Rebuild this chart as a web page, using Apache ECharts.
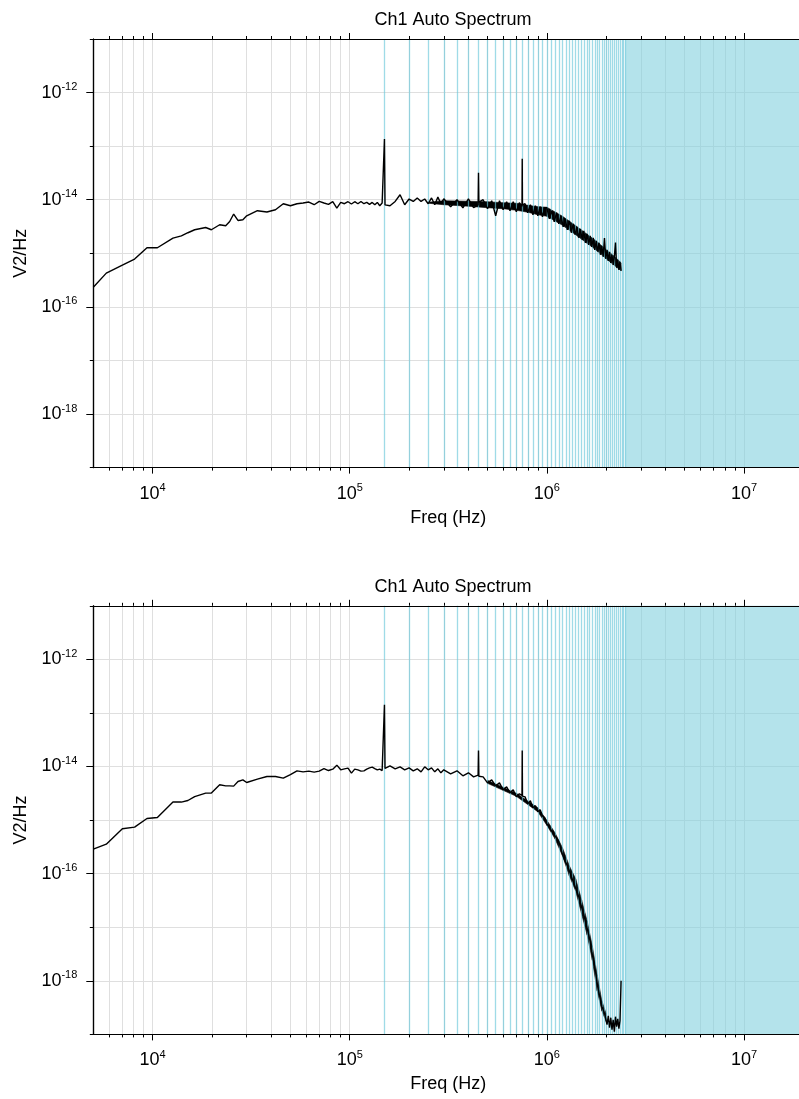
<!DOCTYPE html>
<html><head><meta charset="utf-8">
<script src="https://cdn.jsdelivr.net/npm/echarts@6.0.0/dist/echarts.min.js"></script>
<style>html,body{margin:0;padding:0;background:#fff}#c{width:799px;height:1099px}</style>
</head><body><div id="c"></div>
<script>
const panelTitles = ['Ch1 Auto Spectrum', 'Ch1 Auto Spectrum'];
const xAxisName = 'Freq (Hz)';
const yAxisName = 'V2/Hz';

const freqHz = [
  5000, 5820, 7020, 8100, 9360, 10570, 12680, 13990, 15100, 16340, 18580, 19860, 21880, 23480, 24600, 25770, 27100, 28700,
  30000, 34000, 38000, 42000, 46000, 50000, 54000, 58000, 62000, 66000, 70000, 74000, 78000, 82000, 86000, 90000,
  94000, 98000, 102000, 106000, 110000, 114000, 118000, 122000, 126000, 130000, 134000, 138000, 142000, 146000, 149000,
  150000, 151000, 160000, 170000, 180000, 190000, 200000, 210000, 220000, 230000, 240000, 250000, 260000, 270000, 280000, 290000,
  300000, 325000, 350000, 375000, 400000, 425000, 448000, 450000, 452000, 475000, 500000, 525000, 550000, 575000, 600000,
  625000, 650000, 675000, 700000, 725000, 748000, 750000, 752000, 775000, 800000, 825000, 850000, 875000, 900000, 925000, 950000, 975000,
  1000000, 1030000, 1060000, 1090000, 1120000, 1150000, 1180000, 1210000, 1240000, 1270000, 1300000, 1330000, 1360000, 1390000,
  1420000, 1450000, 1480000, 1510000, 1540000, 1570000, 1600000, 1630000, 1660000, 1690000, 1720000, 1750000, 1780000, 1810000,
  1840000, 1870000, 1900000, 1930000, 1960000, 1990000, 2020000, 2050000, 2080000, 2110000, 2140000, 2170000, 2200000, 2230000,
  2260000, 2290000, 2320000, 2350000, 2380000
];

const psdTop = [
  2.33e-16, 4.27e-16, 6.0e-16, 7.8e-16, 1.27e-15, 1.27e-15, 1.92e-15, 2.12e-15, 2.42e-15, 2.75e-15, 3.03e-15, 2.75e-15, 3.41e-15, 3.27e-15, 3.93e-15, 5.41e-15, 4.1e-15, 4.23e-15,
  5.02e-15, 6.23e-15, 5.89e-15, 6.5e-15, 8.42e-15, 7.72e-15, 8.42e-15, 8.68e-15, 9.06e-15, 8.07e-15, 9.29e-15, 8.68e-15, 8.17e-15, 9.18e-15, 7.0e-15, 8.91e-15,
  8.42e-15, 9.18e-15, 8.31e-15, 9.18e-15, 8.42e-15, 9.29e-15, 8.42e-15, 8.91e-15, 8.17e-15, 8.91e-15, 8.07e-15, 8.91e-15, 7.72e-15, 8.68e-15, 8.4e-15,
  1.36e-13, 8.0e-15, 7.72e-15, 9.29e-15, 1.24e-14, 8.07e-15, 1.03e-14, 9.29e-15, 1.08e-14, 9.29e-15, 1.03e-14, 8.42e-15, 1.08e-14, 8.07e-15, 1.12e-14, 8.42e-15,
  1.04e-14, 7.4e-15, 1.0e-14, 7.08e-15, 1.04e-14, 7.08e-15, 8.0e-15, 3.2e-14, 9.0e-15, 1.0e-14, 6.79e-15, 9.58e-15, 5.02e-15, 9.58e-15, 6.5e-15,
  9.18e-15, 6.23e-15, 9.18e-15, 5.97e-15, 8.79e-15, 7.5e-15, 5.8e-14, 8.0e-15, 8.42e-15, 5.71e-15, 8.07e-15, 5.24e-15, 7.72e-15, 5.02e-15, 7.4e-15, 4.81e-15, 7.08e-15,
  7.09e-15, 4.41e-15, 6.23e-15, 3.88e-15, 5.71e-15, 3.56e-15, 5.02e-15, 3.13e-15, 4.41e-15, 2.75e-15, 4.05e-15, 2.42e-15, 3.56e-15, 2.22e-15,
  3.13e-15, 1.95e-15, 2.87e-15, 1.79e-15, 2.63e-15, 1.57e-15, 2.31e-15, 1.44e-15, 2.12e-15, 1.32e-15, 1.95e-15, 1.16e-15, 1.71e-15, 1.07e-15,
  1.57e-15, 9.38e-16, 1.38e-15, 8.61e-16, 1.92e-15, 7.89e-16, 1.16e-15, 7.24e-16, 1.07e-15, 6.64e-16, 9.38e-16, 6.1e-16, 8.61e-16, 1.59e-15,
  5.36e-16, 7.56e-16, 4.92e-16, 6.93e-16, 4.71e-16
];

const psdBottom = [
  2.88e-16, 3.56e-16, 6.89e-16, 7.4e-16, 1.07e-15, 1.12e-15, 2.17e-15, 2.17e-15, 2.32e-15, 2.75e-15, 3.19e-15, 3.19e-15, 4.56e-15, 4.36e-15, 4.35e-15, 4.31e-15, 5.25e-15, 5.65e-15,
  5.03e-15, 5.82e-15, 6.51e-15, 6.51e-15, 6.08e-15, 7.09e-15, 8.31e-15, 7.96e-15, 8.2e-15, 7.87e-15, 8.2e-15, 9.18e-15, 8.42e-15, 8.94e-15, 1.06e-14, 8.68e-15,
  9.06e-15, 9.33e-15, 7.53e-15, 8.94e-15, 8.68e-15, 8.2e-15, 8.31e-15, 8.94e-15, 9.46e-15, 9.75e-15, 9.18e-15, 8.68e-15, 8.94e-15, 8.42e-15, 8.9e-15,
  1.42e-13, 9.2e-15, 1.03e-14, 9.06e-15, 9.87e-15, 8.68e-15, 9.46e-15, 8.31e-15, 9.06e-15, 7.96e-15, 9.87e-15, 8.68e-15, 9.46e-15, 7.96e-15, 9.06e-15, 7.63e-15,
  8.68e-15, 7.31e-15, 8.31e-15, 6.71e-15, 7.63e-15, 6.42e-15, 6.9e-15, 1.99e-14, 6.6e-15, 6.42e-15, 4.96e-15, 5.65e-15, 4.36e-15, 4.96e-15, 3.67e-15,
  4.18e-15, 3.23e-15, 3.67e-15, 2.72e-15, 3.09e-15, 2.9e-15, 1.99e-14, 2.8e-15, 2.72e-15, 2.01e-15, 2.29e-15, 1.70e-15, 1.85e-15, 1.43e-15, 1.56e-15, 1.20e-15, 1.11e-15,
  8.53e-16, 7.28e-16, 6.13e-16, 5.32e-16, 4.62e-16, 3.99e-16, 2.79e-16, 2.09e-16, 1.69e-16, 1.42e-16, 1.13e-16, 8.87e-17, 7.15e-17, 5.77e-17,
  4.66e-17, 3.76e-17, 2.83e-17, 2.19e-17, 1.71e-17, 1.28e-17, 9.66e-18, 7.24e-18, 5.43e-18, 3.54e-18, 2.48e-18, 1.86e-18, 1.21e-18, 7.87e-19,
  5.92e-19, 4.44e-19, 3.33e-19, 2.89e-19, 2.51e-19, 2.33e-19, 1.52e-19, 2.23e-19, 1.33e-19, 2.05e-19, 1.22e-19, 1.88e-19, 1.12e-19, 2.14e-19,
  1.39e-19, 1.96e-19, 1.28e-19, 1.80e-19, 1.0e-18
];

// noise envelope (upper / lower edge of the dense trace)
const bandTopHz = [250000, 300000, 400000, 500000, 600000, 700000, 800000, 900000, 1000000, 1200000, 1400000, 1600000, 1800000, 2000000, 2200000, 2380000];
const bandTopHi = [8.98e-15, 9.58e-15, 9.375e-15, 9.18e-15, 8.79e-15, 8.6e-15, 7.89e-15, 7.4e-15, 7.24e-15, 4.92e-15, 3.27e-15, 2.27e-15, 1.64e-15, 1.16e-15, 8.79e-16, 6.64e-16];
const bandTopLo = [8.6e-15, 8.06e-15, 7.56e-15, 7.09e-15, 6.79e-15, 6.36e-15, 5.84e-15, 5.24e-15, 4.91e-15, 3.34e-15, 2.22e-15, 1.54e-15, 1.11e-15, 7.89e-16, 5.97e-16, 4.71e-16];
const bandBotHz = [500000, 700000, 900000, 1000000, 1100000, 1200000, 1300000, 1400000, 1500000, 1600000, 1700000, 1800000, 1900000, 2000000];
const bandBotHi = [5.53e-15, 3.16e-15, 1.70e-15, 9.92e-16, 5.79e-16, 3.04e-16, 1.40e-16, 8.03e-17, 3.26e-17, 1.32e-17, 4.52e-18, 1.30e-18, 4.26e-19, 2.43e-19];
const bandBotLo = [4.86e-15, 2.78e-15, 1.43e-15, 8.0e-16, 4.48e-16, 2.16e-16, 9.14e-17, 4.74e-17, 1.79e-17, 7.24e-18, 2.48e-18, 6.53e-19, 2.77e-19, 1.73e-19];

const harmonicHz = [
  150000, 200000, 250000, 300000, 350000, 400000, 450000, 500000, 550000, 600000, 650000, 700000, 750000, 800000, 850000, 900000,
  950000, 1000000, 1050000, 1100000, 1150000, 1200000, 1250000, 1300000, 1350000, 1400000, 1450000, 1500000, 1550000, 1600000,
  1650000, 1700000, 1750000, 1800000, 1850000, 1900000, 1950000, 2000000, 2050000, 2100000, 2150000, 2200000, 2250000, 2300000,
  2350000, 2400000, 2450000, 2500000
];
const harmonicBandHz = [2500000, 20000000];

const xTickHz = [
  6000, 7000, 8000, 9000, 10000, 20000, 30000, 40000, 50000, 60000, 70000, 80000, 90000,
  100000, 200000, 300000, 400000, 500000, 600000, 700000, 800000, 900000,
  1000000, 2000000, 3000000, 4000000, 5000000, 6000000, 7000000, 8000000, 9000000, 10000000, 20000000
];
const xLabelHz = [10000, 100000, 1000000, 10000000];
const yTickVals = [1e-19, 1e-18, 1e-17, 1e-16, 1e-15, 1e-14, 1e-13, 1e-12, 1e-11];
const yLabelVals = [1e-18, 1e-16, 1e-14, 1e-12];

const FONT = "'Liberation Sans', Arial, Helvetica, sans-serif";
const CYAN_FILL = 'rgba(130,208,222,0.6)';
const CYAN_LINE = 'rgba(110,200,218,0.66)';
const GRID_LEFT = 93.3, GRID_W = 710, GRID_H = 428.6;
const panels = [
  { top: 39, psd: psdTop, bHz: bandTopHz, bHi: bandTopHi, bLo: bandTopLo },
  { top: 605.8, psd: psdBottom, bHz: bandBotHz, bHi: bandBotHi, bLo: bandBotLo }
];

const rich = {
  b: { fontSize: 18, lineHeight: 22, fontFamily: FONT, color: '#000' },
  s: { fontSize: 11, lineHeight: 11, fontFamily: FONT, color: '#000', verticalAlign: 'top' }
};
function fmt(v) { return '{b|10}{s|' + Math.round(Math.log10(v)) + '}'; }

const grid = [], xAxis = [], yAxis = [], series = [], title = [];
const black = { color: '#000', width: 1.2 };

panels.forEach((p, k) => {
  const g0 = grid.length;
  const gBase = { left: GRID_LEFT, top: p.top, width: GRID_W, height: GRID_H, containLabel: false, outerBoundsMode: 'none' };
  grid.push(Object.assign({}, gBase));
  grid.push(Object.assign({}, gBase));
  const xi = xAxis.length, yi = yAxis.length;
  const xBase = { type: 'log', logBase: 10, min: 5000, max: 20000000 };
  const yBase = { type: 'log', logBase: 10, min: 1e-19, max: 1e-11 };
  xAxis.push(Object.assign({}, xBase, {
    gridIndex: g0, position: 'bottom', z: 0,
    name: xAxisName, nameLocation: 'middle', nameGap: 41,
    nameTextStyle: { fontSize: 18, color: '#000', fontFamily: FONT },
    axisLine: { show: true, onZero: false, lineStyle: black },
    axisTick: { show: true, customValues: xTickHz, length: 3, lineStyle: { color: '#000', width: 1 } },
    axisLabel: { show: true, customValues: xLabelHz, formatter: fmt, rich: rich, margin: 15 },
    splitLine: { show: true, lineStyle: { color: '#dfdfdf', width: 1 } },
    minorTick: { show: false }, minorSplitLine: { show: false }
  }));
  xAxis.push(Object.assign({}, xBase, {
    gridIndex: g0, position: 'top', z: 0,
    axisLine: { show: true, onZero: false, lineStyle: black },
    axisTick: { show: true, customValues: xTickHz, length: 3, lineStyle: { color: '#000', width: 1 } },
    axisLabel: { show: false }, splitLine: { show: false }
  }));
  yAxis.push(Object.assign({}, yBase, {
    gridIndex: g0, position: 'left', z: 0,
    name: yAxisName, nameLocation: 'middle', nameGap: 59,
    nameTextStyle: { fontSize: 18, color: '#000', fontFamily: FONT },
    axisLine: { show: true, onZero: false, lineStyle: black },
    axisTick: { show: true, customValues: yTickVals, length: 3.5, lineStyle: { color: '#000', width: 1 } },
    axisLabel: { show: true, customValues: yLabelVals, formatter: fmt, rich: rich, margin: 16 },
    splitLine: { show: true, lineStyle: { color: '#dfdfdf', width: 1 } }
  }));
  xAxis.push(Object.assign({}, xBase, {
    gridIndex: g0 + 1, position: 'bottom', z: 10,
    axisLine: { show: true, onZero: false, lineStyle: black },
    axisTick: { show: true, customValues: xLabelHz, length: 6, lineStyle: { color: '#000', width: 1 } },
    axisLabel: { show: false }, splitLine: { show: false }
  }));
  xAxis.push(Object.assign({}, xBase, {
    gridIndex: g0 + 1, position: 'top', z: 10,
    axisLine: { show: true, onZero: false, lineStyle: black },
    axisTick: { show: true, customValues: xLabelHz, length: 6, lineStyle: { color: '#000', width: 1 } },
    axisLabel: { show: false }, splitLine: { show: false }
  }));
  yAxis.push(Object.assign({}, yBase, {
    gridIndex: g0 + 1, position: 'left', z: 10,
    axisLine: { show: true, onZero: false, lineStyle: black },
    axisTick: { show: true, customValues: yLabelVals, length: 7, lineStyle: { color: '#000', width: 1 } },
    axisLabel: { show: false }, splitLine: { show: false }
  }));

  series.push({
    type: 'line', xAxisIndex: xi, yAxisIndex: yi, data: [], silent: true, z: 2,
    markLine: {
      silent: true, symbol: ['none', 'none'], animation: false,
      label: { show: false }, emphasis: { disabled: true },
      lineStyle: { color: CYAN_LINE, width: 1.3, type: 'solid' },
      data: harmonicHz.map(h => ({ xAxis: h }))
    },
    markArea: {
      silent: true, animation: false, label: { show: false },
      itemStyle: { color: CYAN_FILL },
      data: [[{ xAxis: harmonicBandHz[0] }, { xAxis: harmonicBandHz[1] }]]
    }
  });
  // noise envelope of the dense trace: filled band between the lower and upper edges
  const bandData = p.bHz.map((f, i) => [f, p.bHi[i], p.bLo[i]]);
  series.push({
    type: 'custom', xAxisIndex: xi, yAxisIndex: yi, z: 4, silent: true,
    data: bandData,
    encode: { x: 0, y: [1, 2] },
    renderItem: function (params, api) {
      const i = params.dataIndex;
      if (i >= bandData.length - 1) return null;
      const a = bandData[i], b = bandData[i + 1];
      const pts = [
        api.coord([a[0], a[1]]), api.coord([b[0], b[1]]),
        api.coord([b[0], b[2]]), api.coord([a[0], a[2]])
      ];
      return {
        type: 'polygon',
        shape: { points: pts },
        style: { fill: '#000', stroke: '#000', lineWidth: 0.6 }
      };
    }
  });
  series.push({
    type: 'line', xAxisIndex: xi, yAxisIndex: yi, z: 5,
    data: freqHz.map((f, i) => [f, p.psd[i]]),
    showSymbol: false, symbol: 'none', silent: true,
    lineStyle: { color: '#000', width: 1.4 }
  });

  title.push({
    text: panelTitles[k], left: GRID_LEFT + GRID_W / 2 - 0.3, top: p.top - 33, textAlign: 'center',
    textStyle: { fontSize: 18, fontWeight: 'normal', color: '#000', fontFamily: FONT }
  });
});

const chart = echarts.init(document.getElementById('c'), null, { renderer: 'canvas' });
chart.setOption({
  animation: false,
  backgroundColor: '#fff',
  title: title, grid: grid, xAxis: xAxis, yAxis: yAxis, series: series,
  tooltip: { show: false }
});
</script></body></html>
